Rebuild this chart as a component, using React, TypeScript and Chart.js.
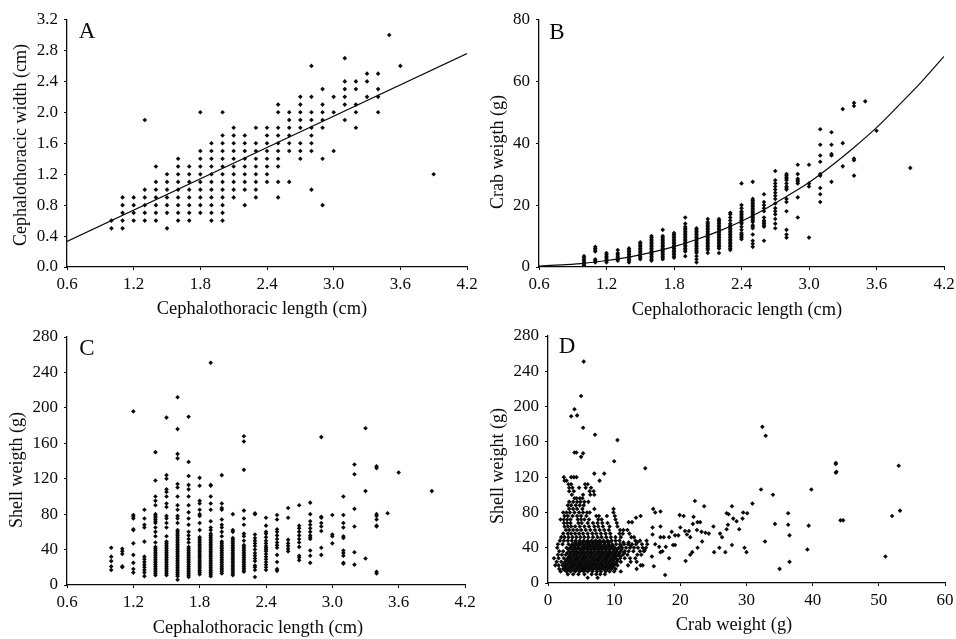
import React, { useEffect, useRef } from "react";
import { Chart, registerables } from "chart.js";

Chart.register(...registerables);

const lengthTicks = [0.6, 1.2, 1.8, 2.4, 3.0, 3.6, 4.2];
const widthTicks = [0, 0.4, 0.8, 1.2, 1.6, 2.0, 2.4, 2.8, 3.2];
const crabTicks = [0, 20, 40, 60, 80];
const shellTicks = [0, 40, 80, 120, 160, 200, 240, 280];
const crabXTicks = [0, 10, 20, 30, 40, 50, 60];

const xLength = "Cephalothoracic length (cm)";

// Panel A
const aColumnX = [1.0, 1.1, 1.2, 1.3, 1.4, 1.5, 1.6, 1.7, 1.8, 1.9, 2.0, 2.1, 2.2, 2.3, 2.4, 2.5, 2.6, 2.7, 2.8, 2.9, 3.0, 3.1, 3.2, 3.3, 3.4, 3.5, 3.6, 3.9];
const aColumnY = [
  [0.5, 0.6],
  [0.5, 0.6, 0.7, 0.8, 0.9],
  [0.6, 0.7, 0.8, 0.9],
  [0.6, 0.7, 0.8, 0.9, 1.0, 1.9],
  [0.6, 0.7, 0.8, 0.9, 1.0, 1.1, 1.3],
  [0.5, 0.7, 0.8, 0.9, 1.0, 1.1, 1.2],
  [0.6, 0.7, 0.8, 0.9, 1.0, 1.1, 1.2, 1.3, 1.4],
  [0.6, 0.7, 0.8, 0.9, 1.0, 1.1, 1.2, 1.3],
  [0.7, 0.8, 0.9, 1.0, 1.1, 1.2, 1.3, 1.4, 1.5, 2.0],
  [0.6, 0.7, 0.8, 0.9, 1.0, 1.1, 1.2, 1.3, 1.4, 1.5, 1.6],
  [0.6, 0.7, 0.8, 0.9, 1.0, 1.1, 1.2, 1.3, 1.4, 1.5, 1.6, 1.7, 2.0],
  [0.9, 1.0, 1.1, 1.2, 1.3, 1.4, 1.5, 1.6, 1.7, 1.8],
  [0.8, 1.0, 1.1, 1.2, 1.3, 1.4, 1.5, 1.6, 1.7],
  [0.9, 1.0, 1.1, 1.2, 1.3, 1.4, 1.5, 1.6, 1.8],
  [1.1, 1.2, 1.3, 1.4, 1.5, 1.6, 1.7, 1.8],
  [0.9, 1.1, 1.3, 1.4, 1.5, 1.6, 1.7, 1.8, 2.0, 2.1],
  [1.1, 1.5, 1.6, 1.7, 1.8, 1.9, 2.0],
  [1.4, 1.5, 1.6, 1.8, 1.9, 2.0, 2.1, 2.2],
  [1.0, 1.5, 1.6, 1.7, 1.8, 1.9, 2.0, 2.2, 2.6],
  [0.8, 1.4, 1.8, 1.9, 2.0, 2.1, 2.3],
  [1.5, 2.0, 2.2],
  [1.9, 2.1, 2.2, 2.3, 2.4, 2.7],
  [1.8, 2.0, 2.1, 2.3, 2.4],
  [2.2, 2.4, 2.5],
  [2.0, 2.2, 2.3, 2.5],
  [3.0],
  [2.6],
  [1.2],
];
const aFitX = [0.6, 4.2];
const aFitY = [0.33, 2.76];

// Panel B
const bColumnX = [1.0, 1.1, 1.2, 1.3, 1.4, 1.5, 1.6, 1.7, 1.8, 1.9, 2.0, 2.1, 2.2, 2.3, 2.4, 2.5, 2.6, 2.7, 2.8, 2.9, 3.0, 3.1, 3.2, 3.3, 3.4, 3.5, 3.6, 3.9];
const bColumnY = [
  [0.5, 1, 1.5, 2, 2.5, 3, 3.5],
  [1.5, 2, 2.5, 5, 5.5, 6, 6.5],
  [1.5, 2, 2.5, 3, 3.5, 4, 4.5],
  [2, 2.5, 3, 3.5, 4, 4.5, 5.5],
  [1.5, 2, 2.5, 3, 3.5, 4, 4.5, 5, 5.5, 6],
  [2.5, 3, 3.5, 4, 4.5, 5, 5.5, 6, 6.5, 7, 7.5, 8],
  [2, 2.5, 3, 3.5, 4, 4.5, 5, 5.5, 6, 6.5, 7, 7.5, 8, 8.5, 9, 9.5, 10],
  [2.5, 3, 3.5, 4, 4.5, 5, 5.5, 6, 6.5, 7, 7.5, 8, 8.5, 9, 9.5, 10, 12],
  [3, 3.5, 4, 4.5, 5, 5.5, 6, 6.5, 7, 7.5, 8, 8.5, 9, 9.5, 10, 10.5, 11],
  [3.5, 5, 5.5, 6, 6.5, 7, 7.5, 8, 8.5, 9, 9.5, 10, 10.5, 11, 11.5, 12, 12.5, 13, 14, 16],
  [1.5, 2.5, 3.5, 4.5, 5, 5.5, 6, 6.5, 7, 7.5, 8, 8.5, 9, 9.5, 10, 10.5, 11, 11.5, 12, 12.5],
  [4.5, 5.5, 6, 6.5, 7, 7.5, 8, 8.5, 9, 9.5, 10, 10.5, 11, 11.5, 12, 12.5, 13, 13.5, 14, 14.5, 15.5],
  [4.5, 6, 6.5, 7, 7.5, 8, 8.5, 9, 9.5, 10, 10.5, 11, 11.5, 12, 12.5, 13, 13.5, 14, 14.5, 15, 15.5],
  [5.5, 6, 6.5, 7, 7.5, 8, 8.5, 9, 9.5, 10, 10.5, 11, 11.5, 12, 12.5, 13, 13.5, 14, 15, 16, 17, 17.5],
  [9, 9.5, 10, 10.5, 11, 12, 13, 14, 14.5, 15, 15.5, 16, 16.5, 17, 17.5, 18, 19, 20, 27],
  [6.5, 7.5, 8.5, 10.5, 12.5, 13, 13.5, 14.5, 15, 15.5, 16, 16.5, 17, 17.5, 18, 18.5, 19, 19.5, 20, 20.5, 21, 21.5, 22, 27.5],
  [8.5, 13, 13.5, 14, 14.5, 15, 16, 18, 19, 20, 21, 23.5],
  [12.5, 14, 15.5, 17, 18, 19, 20.5, 22, 23, 24, 25, 26, 27, 28, 31],
  [9.5, 10.5, 12, 18, 21, 22, 25, 25.5, 26, 27, 28, 28.5, 29, 29.5, 30],
  [16, 22.5, 27, 27.5, 28, 28.5, 30, 33],
  [9.5, 26, 27, 33],
  [21, 23.5, 25.5, 29.5, 30, 34, 36, 39.5, 44.5],
  [27.5, 36, 36.5, 39.5, 43.5],
  [32.5, 40, 51],
  [29.5, 34.5, 35, 52, 53],
  [53.5],
  [44],
  [32],
];
const bFitX = [0.6, 0.8, 1.0, 1.2, 1.4, 1.6, 1.8, 2.0, 2.2, 2.4, 2.6, 2.8, 3.0, 3.2, 3.4, 3.6, 3.8, 4.0, 4.2];
const bFitY = [0.3, 0.7, 1.2, 2.1, 3.2, 4.7, 6.6, 8.9, 11.6, 14.8, 18.5, 22.8, 27.3, 32.7, 38.6, 45, 52.3, 59.8, 68];

// Panel C
const cColumnX = [1.0, 1.1, 1.2, 1.3, 1.4, 1.5, 1.6, 1.7, 1.8, 1.9, 2.0, 2.1, 2.2, 2.3, 2.4, 2.5, 2.6, 2.7, 2.8, 2.9, 3.0, 3.1, 3.2, 3.3, 3.4, 3.5, 3.6, 3.9];
const cColumnY = [
  [17, 21, 27, 32, 42],
  [20, 21, 35, 38, 41],
  [14, 18, 25, 34, 47, 62, 63, 75, 77, 79, 196],
  [10, 14, 17, 20, 23, 26, 29, 32, 49, 65, 68, 75, 85],
  [11, 13, 15, 17, 19, 21, 23, 25, 27, 29, 31, 33, 35, 37, 39, 41, 43, 48, 55, 60, 65, 70, 72, 74, 76, 78, 80, 90, 95, 100, 118, 150],
  [11, 13, 15, 17, 19, 21, 23, 25, 27, 29, 31, 33, 35, 37, 39, 41, 43, 45, 47, 49, 55, 65, 70, 75, 78, 88, 92, 100, 105, 108, 120, 124, 189],
  [6, 10, 12, 14, 16, 18, 20, 22, 24, 26, 28, 30, 32, 34, 36, 38, 40, 42, 44, 46, 48, 50, 52, 54, 56, 58, 60, 62, 70, 75, 78, 85, 90, 100, 110, 114, 143, 148, 176, 212],
  [9, 11, 13, 15, 17, 19, 21, 23, 25, 27, 29, 31, 33, 35, 37, 39, 41, 43, 48, 52, 56, 60, 68, 75, 82, 90, 100, 108, 113, 123, 139, 190],
  [12, 14, 16, 18, 20, 22, 24, 26, 28, 30, 32, 34, 36, 38, 40, 42, 44, 46, 48, 50, 52, 54, 62, 70, 78, 80, 85, 92, 95, 112, 121],
  [10, 12, 14, 16, 18, 20, 22, 24, 26, 28, 30, 32, 34, 36, 38, 40, 42, 44, 46, 48, 50, 52, 54, 56, 58, 62, 65, 72, 85, 92, 100, 112, 113, 251],
  [13, 15, 17, 19, 21, 23, 25, 27, 29, 31, 33, 35, 37, 39, 41, 43, 45, 47, 49, 55, 60, 65, 68, 74, 85, 87, 92, 124],
  [11, 13, 15, 17, 19, 21, 23, 25, 27, 29, 31, 33, 35, 37, 39, 41, 43, 45, 47, 49, 51, 53, 60, 62, 80],
  [15, 17, 19, 21, 23, 25, 27, 29, 31, 33, 35, 37, 39, 41, 43, 45, 50, 55, 58, 68, 75, 84, 130, 162, 168],
  [9, 17, 20, 22, 27, 30, 33, 36, 40, 44, 47, 50, 53, 57, 80, 81],
  [17, 20, 23, 26, 29, 32, 35, 38, 40, 42, 44, 47, 50, 54, 58, 60, 67, 76],
  [16, 18, 26, 34, 42, 45, 48, 52, 56, 60, 63, 74, 79],
  [38, 41, 44, 47, 51, 76, 87],
  [28, 31, 33, 43, 48, 52, 56, 60, 64, 67, 90],
  [25, 33, 39, 52, 54, 56, 60, 64, 68, 72, 80, 93],
  [34, 42, 61, 66, 70, 76, 77, 167],
  [47, 55, 57, 79],
  [24, 25, 33, 36, 39, 53, 55, 65, 70, 79, 100],
  [23, 37, 66, 86, 125, 136],
  [30, 106, 177],
  [13, 15, 66, 67, 74, 78, 80, 132, 134],
  [81],
  [127],
  [106],
];

// Panel D: scattered points
const dSparseX = [5.4, 5.0, 4.0, 3.5, 4.4, 5.3, 7.1, 10.5, 5.3, 5.0, 4.0, 4.3, 10, 14.7, 7, 8.5, 32.4, 32.9, 43.5, 43.5, 43.6, 43.5, 53, 32.2, 39.8, 34, 30.9, 22.2, 23.6, 27.8, 27, 27.3, 29.5, 30.1, 36.3, 53.2, 52, 44.2, 44.6, 28, 28.5, 29.4, 34.3, 36.3, 39.4, 36.5, 32.8, 39.2, 51, 36.5, 35, 30, 29.7, 27.8, 26.8, 25.9, 25.1, 17.7, 22, 21.9, 22.6, 23, 25, 27.2, 27, 28.9, 26, 26.3, 19.9, 20.5, 15.9, 16.2, 17, 14, 13.3, 12.2, 12.7, 15.8, 17, 18.7, 19.2, 19.7, 20, 20.7, 21.3, 21, 21.5, 22.5, 23.2, 23.8, 24.3, 23.3, 22.6, 21.8, 21.5, 20.8, 18.3, 16, 15.7, 17, 17.3, 17.8, 16.8, 16.2, 17.5, 17, 15.8, 18.3, 18.9, 19.2, 14.6, 14, 6, 7.5];
const dSparseY = [251, 212, 197, 189, 190, 176, 168, 162, 147, 143, 148, 148, 138, 130, 124, 124, 177, 167, 136, 135, 126, 125, 133, 106, 106, 100, 90, 93, 87, 87, 79, 78, 80, 79, 79, 82, 76, 71, 71, 73, 70, 73, 67, 66, 65, 54, 47, 38, 30, 24, 16, 35, 40, 43, 35, 40, 35, 9, 75, 67, 69, 69, 64, 66, 61, 61, 56, 52, 77, 76, 84, 80, 81, 76, 74, 69, 69, 63, 64, 58, 54, 54, 63, 59, 59, 55, 52, 60, 58, 57, 56, 47, 40, 35, 32, 25, 28, 19, 30, 35, 36, 41, 41, 44, 52, 52, 55, 52, 43, 43, 37, 20, 6, 6];

// Panel D: the dense cloud, one list of crab weights per shell weight
const dRowY = [120, 116, 112, 108, 104, 100, 96, 92, 88, 84, 80, 76, 72, 68, 64, 60, 56, 52, 48, 44, 40, 36, 32, 28, 24, 20, 16, 13, 10, 46, 42, 38, 34, 30, 26, 22, 18, 15];
const dRowX = [
  [2.4, 3.5, 3.9, 4.3],
  [2.5, 2.8, 7.8],
  [3.1, 3.5, 5.6, 6],
  [3.2, 3.7, 4.7, 5.7, 6.5],
  [3.2, 3.9, 6.3, 6.9],
  [3.6, 5.3, 6.4, 7],
  [4, 4.3, 4.8, 5.2],
  [3.2, 3.8, 4.4, 4.9, 5.5, 6.1],
  [3, 3.5, 4.2, 4.8, 5.4],
  [3.2, 3.8, 4.4, 5.2, 7.0, 9.9],
  [2.3, 2.8, 3.3, 4, 4.7, 5.3, 5.9, 6.3, 9.9],
  [2.5, 3, 3.7, 4.4, 5, 5.8, 7.3, 7.7, 8.9, 10.1],
  [1.9, 2.4, 2.9, 3.4, 4.5, 5, 5.5, 6.2, 7.6, 8.1, 10.2],
  [2.4, 2.9, 3.4, 4.6, 5.1, 6, 6.8, 7.5, 8.2, 9, 10.4],
  [2.5, 3, 3.5, 4.1, 4.8, 5.5, 6.2, 7, 7.6, 8.3, 9.3, 10.5],
  [2.7, 3.2, 3.8, 4.4, 5, 5.7, 6.4, 7.1, 7.8, 8.5, 9.2, 10.9, 11.4, 12],
  [2.3, 3, 3.5, 4.1, 4.7, 5.3, 6, 6.7, 7.3, 8, 8.7, 9.4, 10.8, 11.3, 12.3],
  [2, 2.5, 3.1, 3.7, 4.3, 4.9, 5.5, 6.1, 6.8, 7.5, 8.1, 8.8, 9.5, 10.2, 11, 12.6, 13],
  [1.8, 2.4, 3, 3.6, 4.2, 4.8, 5.4, 6, 6.6, 7.2, 7.8, 8.4, 9, 9.6, 10.2, 10.8, 13.2, 13.9, 14.9],
  [1.5, 2.2, 3.1, 3.7, 4.3, 4.9, 5.5, 6.1, 6.7, 7.3, 7.9, 8.5, 9.1, 9.7, 10.3, 10.9, 11.5, 12.1, 12.7, 13.3, 14.2, 15],
  [1.4, 2.8, 3.4, 4, 4.5, 5.1, 5.6, 6.2, 6.8, 7.3, 7.9, 8.4, 9, 9.6, 10.1, 10.7, 11.2, 11.8, 12.4, 13, 13.6, 14.3, 14.8],
  [1.7, 2.3, 3.2, 3.8, 4.3, 4.9, 5.4, 6, 6.5, 7.1, 7.6, 8.2, 8.8, 9.3, 9.9, 10.4, 11, 11.6, 12.2, 12.9, 13.9, 14.5],
  [1.5, 2.1, 2.7, 3.3, 3.9, 4.4, 5, 5.5, 6.1, 6.6, 7.2, 7.8, 8.3, 8.9, 9.4, 10, 10.6, 11.3, 12, 13.5, 14.1],
  [0.9, 1.6, 2.4, 3, 3.5, 4.1, 4.6, 5.2, 5.7, 6.3, 6.8, 7.4, 7.9, 8.5, 9, 9.6, 10.2, 10.9, 11.6, 12.4, 13.2],
  [1.3, 2, 2.6, 3.2, 3.7, 4.3, 4.8, 5.4, 5.9, 6.5, 7, 7.6, 8.1, 8.7, 9.2, 9.8, 10.4, 11, 12.5, 13.4],
  [1.1, 1.6, 2.2, 2.8, 3.4, 3.9, 4.5, 5, 5.6, 6.1, 6.7, 7.2, 7.8, 8.3, 8.9, 9.5, 10, 10.5, 12.1, 14.3],
  [1.7, 2.3, 2.9, 3.5, 4.1, 4.6, 5.2, 5.7, 6.3, 6.8, 7.4, 7.9, 8.5, 9, 9.6, 10.2, 13.4],
  [1.9, 2.8, 3.4, 4.1, 4.8, 5.4, 6, 6.7, 7.4, 8, 8.7, 9.3, 10, 11],
  [3, 3.8, 4.6, 5.5, 6.6, 7.3, 7.9, 8.6],
  [4.1, 4.7, 5.2, 5.8, 6.3, 6.9, 7.5, 8, 8.6, 9.2, 11.4, 12.2, 13.5],
  [3.5, 4, 4.6, 5.3, 5.9, 6.4, 7, 7.6, 8.1, 8.7, 9.3, 9.8, 11, 12.5],
  [3.1, 3.7, 4.2, 4.8, 5.3, 5.9, 6.5, 7, 7.6, 8.1, 8.7, 9.3, 9.9, 10.4, 11.1],
  [2.9, 3.5, 4.1, 4.6, 5.2, 5.7, 6.3, 6.8, 7.4, 7.9, 8.5, 9.1, 9.6, 10.2, 10.8, 11.5],
  [3.2, 3.7, 4.3, 4.8, 5.4, 5.9, 6.5, 7, 7.6, 8.1, 8.7, 9.2, 9.8, 10.3, 10.9],
  [2.8, 3.3, 3.9, 4.4, 5, 5.5, 6.1, 6.7, 7.2, 7.7, 8.3, 8.8, 9.4, 9.9, 10.5],
  [2.5, 3, 3.6, 4.1, 4.7, 5.2, 5.8, 6.3, 6.9, 7.4, 8, 8.5, 9.1, 9.6, 10.2],
  [2.6, 3.2, 3.7, 4.3, 4.9, 5.4, 6, 6.5, 7.1, 7.6, 8.2, 8.7, 9.3, 9.8],
  [2.5, 3.1, 3.7, 4.4, 5, 5.6, 6.2, 6.8, 7.4, 8, 8.6],
];

const black = "#0a0a0a";
const serif = "'Liberation Serif', serif";

type Panel = {
  letter: string;
  letterPos: [number, number];
  area: { left: number; right: number; top: number; bottom: number };
  xMin: number;
  xMax: number;
  yMin: number;
  yMax: number;
  xTicks: number[];
  yTicks: number[];
  xDigits: number;
  yDigits: number;
  xTitle: string;
  yTitle: string;
  xTitlePos: [number, number];
  yTitlePos: [number, number];
  points: { x: number; y: number }[];
  fit?: { x: number; y: number }[];
  size: [number, number];
  at: [number, number];
};

const fromColumns = (xs: number[], ys: number[][]) =>
  xs.flatMap((x, i) => ys[i].map((y) => ({ x, y })));

const panels: Panel[] = [
  {
    letter: "A", letterPos: [87, 32],
    area: { left: 67, right: 467, top: 19.5, bottom: 267 },
    xMin: 0.6, xMax: 4.2, yMin: 0, yMax: 3.2,
    xTicks: lengthTicks, yTicks: widthTicks, xDigits: 1, yDigits: 1,
    xTitle: xLength, yTitle: "Cephalothoracic width (cm)",
    xTitlePos: [262, 309], yTitlePos: [21, 145],
    points: fromColumns(aColumnX, aColumnY),
    fit: aFitX.map((x, i) => ({ x, y: aFitY[i] })),
    size: [478, 320], at: [0, 0],
  },
  {
    letter: "B", letterPos: [79, 33],
    area: { left: 61, right: 466, top: 19.3, bottom: 267 },
    xMin: 0.6, xMax: 4.2, yMin: 0, yMax: 80,
    xTicks: lengthTicks, yTicks: crabTicks, xDigits: 1, yDigits: 0,
    xTitle: xLength, yTitle: "Crab weigth (g)",
    xTitlePos: [259, 310], yTitlePos: [20, 152],
    points: fromColumns(bColumnX, bColumnY),
    fit: bFitX.map((x, i) => ({ x, y: bFitY[i] })),
    size: [478, 320], at: [478, 0],
  },
  {
    letter: "C", letterPos: [87, 29],
    area: { left: 67, right: 465, top: 17, bottom: 265 },
    xMin: 0.6, xMax: 4.2, yMin: 0, yMax: 280,
    xTicks: lengthTicks, yTicks: shellTicks, xDigits: 1, yDigits: 0,
    xTitle: xLength, yTitle: "Shell weigth (g)",
    xTitlePos: [258, 308], yTitlePos: [17, 150],
    points: fromColumns(cColumnX, cColumnY),
    size: [478, 319], at: [0, 320],
  },
  {
    letter: "D", letterPos: [89, 27],
    area: { left: 70, right: 467, top: 16, bottom: 263 },
    xMin: 0, xMax: 60, yMin: 0, yMax: 280,
    xTicks: crabXTicks, yTicks: shellTicks, xDigits: 0, yDigits: 0,
    xTitle: "Crab weight (g)", yTitle: "Shell weight (g)",
    xTitlePos: [256, 305], yTitlePos: [20, 146],
    points: [
      ...dSparseX.map((x, i) => ({ x, y: dSparseY[i] })),
      ...dRowY.flatMap((y, i) => dRowX[i].map((x) => ({ x, y }))),
    ],
    size: [478, 319], at: [478, 320],
  },
];

function PanelChart({ p }: { p: Panel }) {
  const ref = useRef<HTMLCanvasElement | null>(null);
  useEffect(() => {
    const [w, h] = p.size;
    const labels = {
      id: "panelLabels",
      afterDraw(chart: any) {
        const ctx = chart.ctx;
        ctx.save();
        ctx.fillStyle = black;
        ctx.textAlign = "center";
        ctx.textBaseline = "middle";
        ctx.font = `23px ${serif}`;
        ctx.fillText(p.letter, p.letterPos[0], p.letterPos[1]);
        ctx.font = `18.4px ${serif}`;
        ctx.fillText(p.xTitle, p.xTitlePos[0], p.xTitlePos[1]);
        ctx.font = `18px ${serif}`;
        ctx.translate(p.yTitlePos[0], p.yTitlePos[1]);
        ctx.rotate(-Math.PI / 2);
        ctx.fillText(p.yTitle, 0, 0);
        ctx.restore();
      },
    };
    const datasets: any[] = [
      {
        data: p.points,
        showLine: false,
        pointStyle: "rectRot",
        pointRadius: 2.3,
        pointBackgroundColor: black,
        pointBorderWidth: 0,
      },
    ];
    if (p.fit) {
      datasets.push({
        data: p.fit,
        showLine: true,
        borderColor: black,
        borderWidth: 1.2,
        pointRadius: 0,
        tension: 0.3,
      });
    }
    const axis = (min: number, max: number, ticks: number[], digits: number, tickPadding: number, fitSize: (s: any) => void) => ({
      type: "linear" as const,
      min,
      max,
      afterBuildTicks: (s: any) => {
        s.ticks = ticks.map((value) => ({ value }));
      },
      afterFit: (s: any) => {
        fitSize(s);
        s.paddingLeft = 0;
        s.paddingRight = 0;
        s.paddingTop = 0;
        s.paddingBottom = 0;
      },
      grid: { drawOnChartArea: false, drawTicks: true, tickLength: 3, color: black },
      border: { color: black, width: 1.3 },
      ticks: {
        color: black,
        font: { family: serif, size: 17 },
        autoSkip: false,
        maxRotation: 0,
        padding: tickPadding,
        callback: (v: any) => Number(v).toFixed(digits),
      },
    });
    const chart = new Chart(ref.current as HTMLCanvasElement, {
      type: "scatter",
      data: { datasets },
      plugins: [labels],
      options: {
        animation: false,
        responsive: false,
        devicePixelRatio: 1,
        layout: {
          autoPadding: false,
          padding: { left: 0, top: p.area.top, right: w - p.area.right, bottom: 0 },
        },
        plugins: { legend: { display: false }, tooltip: { enabled: false } },
        scales: {
          x: axis(p.xMin, p.xMax, p.xTicks, p.xDigits, 4, (s) => {
            s.height = h - p.area.bottom;
          }),
          y: axis(p.yMin, p.yMax, p.yTicks, p.yDigits, 6, (s) => {
            s.width = p.area.left;
          }),
        },
      },
    } as any);
    return () => chart.destroy();
  }, [p]);
  return (
    <canvas
      ref={ref}
      width={p.size[0]}
      height={p.size[1]}
      style={{ position: "absolute", left: p.at[0], top: p.at[1], width: p.size[0], height: p.size[1] }}
    />
  );
}

export default function App() {
  return (
    <div style={{ position: "absolute", left: 0, top: 0, width: 956, height: 639, background: "#fff", overflow: "hidden" }}>
      {panels.map((p) => (
        <PanelChart key={p.letter} p={p} />
      ))}
    </div>
  );
}
